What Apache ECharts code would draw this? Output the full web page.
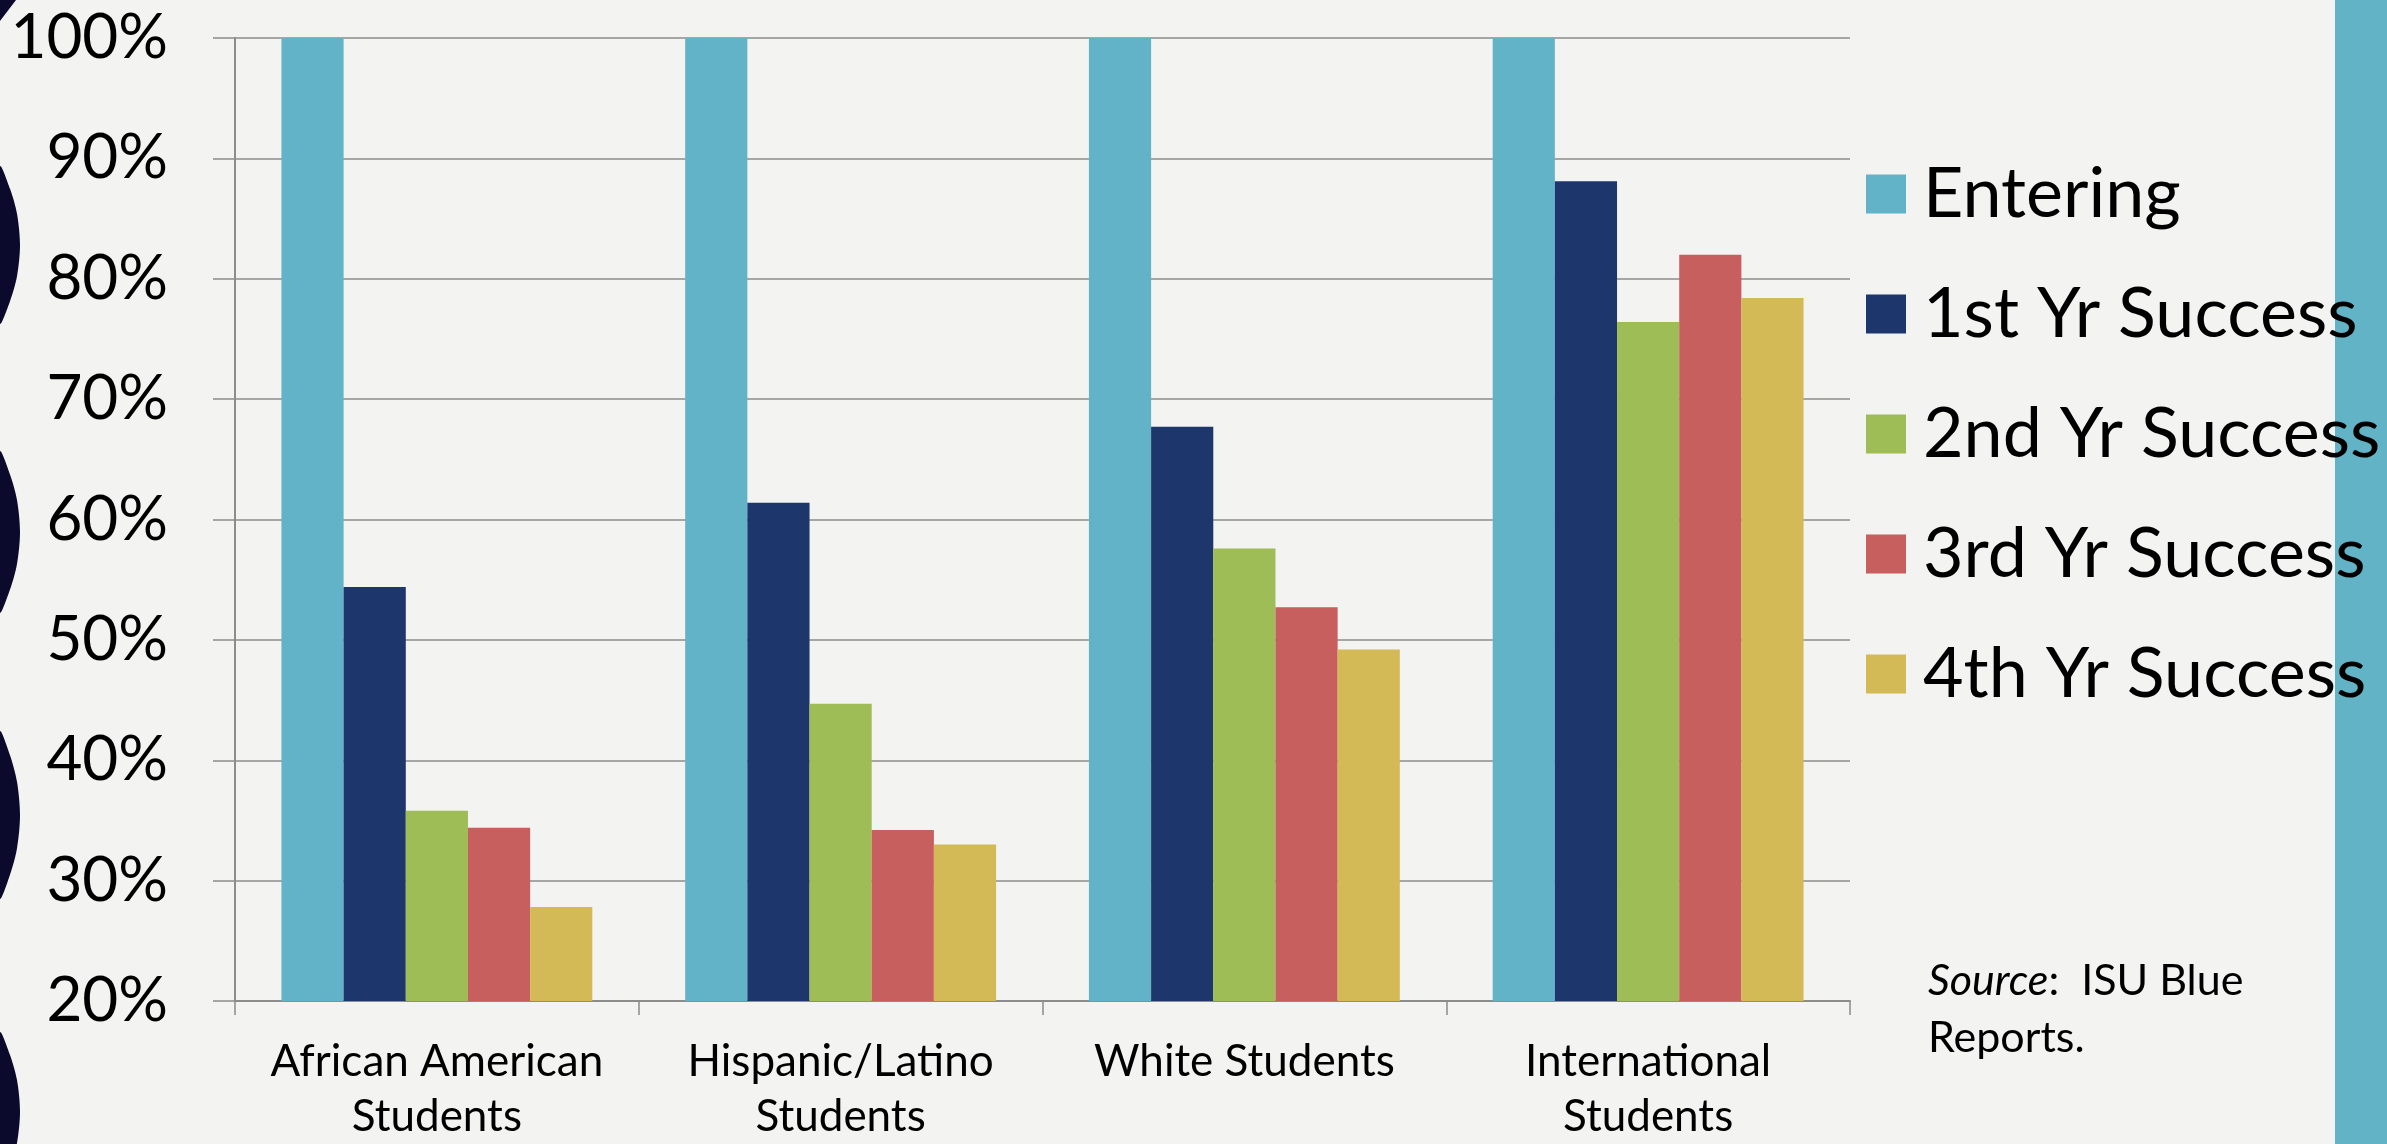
<!DOCTYPE html>
<html>
<head>
<meta charset="utf-8">
<title>ISU student success by group</title>
<script src="https://cdn.jsdelivr.net/npm/echarts@6/dist/echarts.min.js"></script>
<style>
  html, body { margin: 0; padding: 0; background: #f3f3f1; }
  #main { width: 2387px; height: 1144px; }
</style>
</head>
<body>
<div id="main"></div>
<script>
// categories + series values (percent)
var categories = ["African American\nStudents", "Hispanic/Latino\nStudents", "White Students", "International\nStudents"];
var seriesNames = ["Entering", "1st Yr Success", "2nd Yr Success", "3rd Yr Success", "4th Yr Success"];
var entering = [100, 100, 100, 100];
var yr1 = [54.4, 61.4, 67.7, 88.1];
var yr2 = [35.8, 44.7, 57.6, 76.4];
var yr3 = [34.4, 34.2, 52.7, 82.0];
var yr4 = [27.8, 33.0, 49.2, 78.4];
var colors = ["#63b3c8", "#1d366c", "#9fbd57", "#c65f5e", "#d4ba57"];

var FONT = "Lato";

var chart = echarts.init(document.getElementById("main"));

// dark wavy strip on the left edge of the slide (start y, end y of each bump)
var navy = "#0c0a2c";
var bumpSpans = [[167, 323], [452, 612], [732, 898], [1033, 1190]];
var deco = bumpSpans.map(function (s) {
  var mid = (s[0] + s[1]) / 2, h = s[1] - s[0];
  return {
    type: "polygon",
    z: 0,
    shape: {
      smooth: 0.3,
      points: [
        [0, s[0]], [10, s[0] + h * 0.14], [17, s[0] + h * 0.3], [20, mid],
        [17, s[1] - h * 0.3], [10, s[1] - h * 0.14], [0, s[1]]
      ]
    },
    style: { fill: navy }
  };
});
deco.push({ type: "polygon", z: 0, shape: { points: [[0, 0], [16, 0], [0, 21]] }, style: { fill: navy } });
// teal band on the right
deco.push({ type: "rect", z: 0, shape: { x: 2335, y: 0, width: 52, height: 1144 }, style: { fill: "#63b3c7" } });
// source note
deco.push({
  type: "text",
  left: 1928,
  top: 953,
  z: 5,
  style: {
    text: "{i|Source}:  ISU Blue\nReports.",
    font: "43px " + FONT,
    fill: "#000",
    lineHeight: 57,
    rich: {
      i: { fontStyle: "italic", fontSize: 43, fontFamily: FONT, fill: "#000", lineHeight: 57 }
    }
  }
});

var allData = [entering, yr1, yr2, yr3, yr4];

chart.setOption({
  backgroundColor: "#f3f3f1",
  color: colors,
  animation: false,
  grid: { left: 235, right: 537, top: 38, bottom: 136, containLabel: false },
  legend: {
    orient: "vertical",
    left: 1861,
    top: 153,
    icon: "rect",
    itemWidth: 40,
    itemHeight: 39,
    itemGap: 48,
    data: seriesNames,
    textStyle: {
      fontFamily: FONT,
      fontSize: 70,
      color: "#000",
      lineHeight: 72,
      padding: [0, 0, 0, 12]
    }
  },
  xAxis: {
    type: "category",
    data: categories,
    axisLine: { lineStyle: { color: "#8c8c8c", width: 2 } },
    axisTick: { show: true, length: 14, interval: 0, lineStyle: { color: "#8c8c8c", width: 1.5 } },
    axisLabel: {
      interval: 0,
      margin: 33,
      fontFamily: FONT,
      fontSize: 44,
      lineHeight: 55,
      color: "#000"
    }
  },
  yAxis: {
    type: "value",
    min: 20,
    max: 100,
    interval: 10,
    axisLine: { show: true, lineStyle: { color: "#8c8c8c", width: 2 } },
    axisTick: { show: true, length: 22, lineStyle: { color: "#8c8c8c", width: 1.5 } },
    splitLine: { lineStyle: { color: "#8c8c8c", width: 1.5 } },
    axisLabel: {
      formatter: "{value}%",
      margin: 67,
      fontFamily: FONT,
      fontSize: 62,
      color: "#000"
    }
  },
  graphic: deco,
  series: seriesNames.map(function (name, i) {
    return {
      name: name,
      type: "bar",
      data: allData[i],
      barGap: "0%",
      barCategoryGap: "23%",
      itemStyle: { color: colors[i] }
    };
  })
});
</script>
</body>
</html>
